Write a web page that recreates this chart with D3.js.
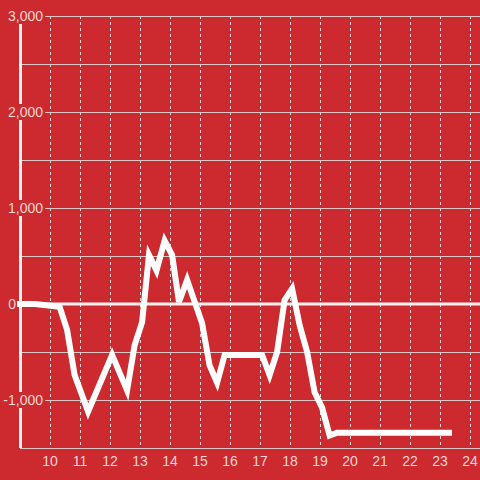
<!DOCTYPE html>
<html>
<head>
<meta charset="utf-8">
<script src="https://cdn.jsdelivr.net/npm/d3@7"></script>
<style>
  body { margin: 0; background: #cc2a2e; }
  svg { display: block; }
</style>
</head>
<body>
<div id="chart"></div>
<script>
'use strict';

// hours of the day (decimal) and the running value at each
var hours = [8.9, 9.5, 10.32, 10.57, 10.82, 11.27, 12.07, 12.57, 12.82, 13.07, 13.3, 13.55,
             13.82, 14.07, 14.3, 14.57, 15.07, 15.32, 15.57, 15.82, 17.07, 17.32, 17.57,
             17.82, 18.07, 18.32, 18.57, 18.82, 19.07, 19.32, 19.57, 23.4];
var values = [0, 0, -30, -270, -740, -1120, -530, -900, -430, -190, 510, 350,
              660, 510, 20, 250, -200, -640, -820, -530, -530, -740, -500,
              40, 160, -220, -500, -920, -1080, -1370, -1340, -1340];
var xTicks = [10, 11, 12, 13, 14, 15, 16, 17, 18, 19, 20, 21, 22, 23, 24];
var yTicks = [3000, 2000, 1000, 0, -1000];
var yGrid = [3000, 2500, 2000, 1500, 1000, 500, -500, -1000, -1500];

var width = 480, height = 480;
var bg = '#cc2a2e';
var textColor = '#f5d5d6';

var x = d3.scaleLinear().domain([9, 24.333]).range([20, 480]);
var y = d3.scaleLinear().domain([-1500, 3000]).range([448, 16]);

var svg = d3.select('#chart').append('svg')
    .attr('width', width)
    .attr('height', height);

svg.append('rect').attr('width', width).attr('height', height).attr('fill', bg);

// vertical dashed grid
svg.append('g').selectAll('line')
    .data(xTicks)
  .enter().append('line')
    .attr('x1', function(d) { return Math.round(x(d)) + 0.5; })
    .attr('x2', function(d) { return Math.round(x(d)) + 0.5; })
    .attr('y1', y(3000))
    .attr('y2', y(-1500))
    .attr('stroke', '#e6d2d2')
    .attr('stroke-width', 1)
    .attr('stroke-dasharray', '3,3');

// horizontal grid
svg.append('g').selectAll('line')
    .data(yGrid)
  .enter().append('line')
    .attr('x1', 20)
    .attr('x2', width)
    .attr('y1', function(d) { return Math.round(y(d)) + 0.5; })
    .attr('y2', function(d) { return Math.round(y(d)) + 0.5; })
    .attr('stroke', '#d9c6c6')
    .attr('stroke-width', 1);

// zero line
svg.append('line')
    .attr('x1', 20).attr('x2', width)
    .attr('y1', y(0)).attr('y2', y(0))
    .attr('stroke', '#f7f0f0')
    .attr('stroke-width', 3);

// y axis line
svg.append('line')
    .attr('x1', 20.5).attr('x2', 20.5)
    .attr('y1', y(3000)).attr('y2', y(-1500))
    .attr('stroke', '#f7f0f0')
    .attr('stroke-width', 3);

// y labels with a background patch (the zero label sits left of the axis)
var fmt = d3.format(',');
var yLab = svg.append('g').selectAll('g')
    .data(yTicks)
  .enter().append('g')
    .attr('transform', function(d) { return 'translate(' + (d === 0 ? 16 : 43) + ',' + y(d) + ')'; });
yLab.append('text')
    .attr('text-anchor', 'end')
    .attr('dy', '0.35em')
    .attr('fill', textColor)
    .style('font-family', '"Liberation Sans", Arial, sans-serif')
    .style('font-size', '14px')
    .text(function(d) { return fmt(d).replace('−', '-'); })
    .each(function(d) {
        if (d === 0) return;
        var b = this.getBBox();
        d3.select(this.parentNode).insert('rect', 'text')
            .attr('x', b.x - 2)
            .attr('y', -8)
            .attr('width', b.width + 4)
            .attr('height', 16)
            .attr('fill', bg);
    });

// x labels
svg.append('g').selectAll('text')
    .data(xTicks)
  .enter().append('text')
    .attr('x', function(d) { return x(d); })
    .attr('y', 466)
    .attr('text-anchor', 'middle')
    .attr('fill', textColor)
    .style('font-family', '"Liberation Sans", Arial, sans-serif')
    .style('font-size', '14px')
    .text(function(d) { return d; });

// the data line
var line = d3.line()
    .x(function(d, i) { return x(hours[i]); })
    .y(function(d) { return y(d); });

svg.append('path')
    .datum(values)
    .attr('d', line)
    .attr('fill', 'none')
    .attr('stroke', '#ffffff')
    .attr('stroke-width', 6)
    .attr('stroke-linejoin', 'miter');
</script>
</body>
</html>
